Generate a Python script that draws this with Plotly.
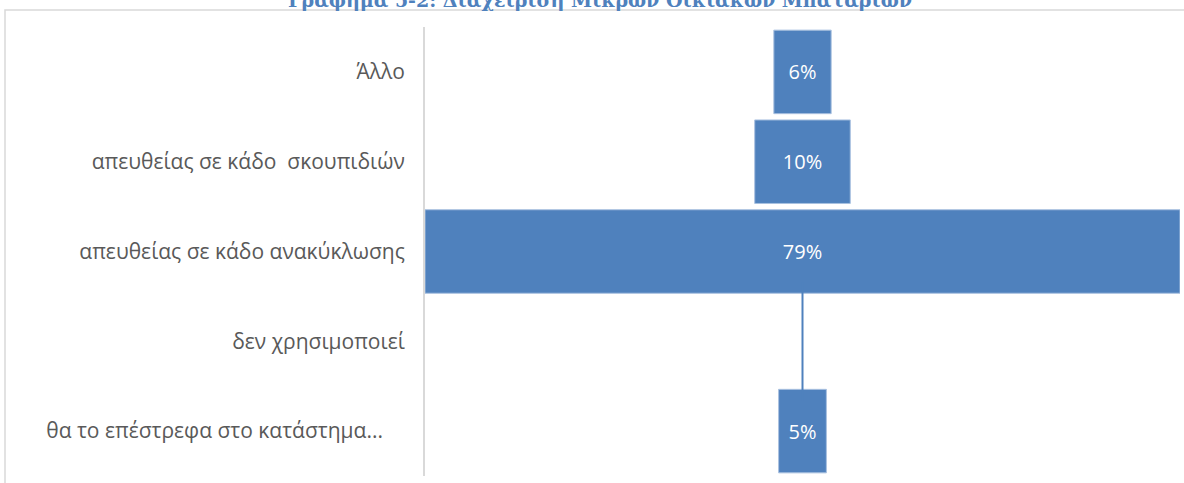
import plotly.graph_objects as go

categories = ["Άλλο", "απευθείας σε κάδο  σκουπιδιών", "απευθείας σε κάδο ανακύκλωσης",
              "δεν χρησιμοποιεί", "θα το επέστρεφα στο κατάστημα..."]
values = [6, 10, 79, 0, 5]
title_text = "Γράφημα 5-2: Διαχείριση Μικρών Οικιακών Μπαταριών"

BLUE = "#4F81BD"
labels = [f"{v}%" if v > 0 else "" for v in values]
# the last label sits a little left of the others in the reference (trailing blanks)
tick_text = [c + ("\u00a0" * 4 if c.endswith("...") else "") for c in categories]

fig = go.Figure()
fig.add_trace(go.Bar(
    y=categories, x=values, base=[-v / 2 for v in values], orientation="h",
    marker=dict(color=BLUE, line=dict(color="#A9C1E0", width=1)),
    text=labels, textposition="inside", insidetextanchor="middle",
    textfont=dict(family="Open Sans", size=20, color="white"),
    hoverinfo="skip", showlegend=False,
))
zero_cats = [c for c, v in zip(categories, values) if v == 0]
fig.add_trace(go.Scatter(
    y=zero_cats, x=[0] * len(zero_cats), mode="markers",
    marker=dict(symbol="line-ns", size=84, line=dict(color=BLUE, width=2)),
    hoverinfo="skip", showlegend=False,
))

half = max(values) / 2
fig.update_layout(
    width=1184, height=483,
    margin=dict(l=425, r=4, t=27, b=7),
    paper_bgcolor="white", plot_bgcolor="white",
    bargap=0.07,
    xaxis=dict(range=[-half, half], visible=False, fixedrange=True),
    yaxis=dict(categoryorder="array", categoryarray=categories[::-1],
               tickmode="array", tickvals=categories, ticktext=tick_text,
               showline=True, linecolor="#D9D9D9", linewidth=2, showgrid=False,
               ticks="", ticklabelstandoff=14, fixedrange=True,
               tickfont=dict(family="Open Sans", size=21, color="#595959")),
    shapes=[dict(type="rect", xref="paper", yref="paper",
                 x0=-0.5563, x1=1.2, y0=1.038, y1=-0.2,
                 line=dict(color="#D9D9D9", width=1.5), layer="below")],
    annotations=[dict(text=f"<b>{title_text}</b>", xref="paper", yref="paper",
                      x=0.2318, xanchor="center", y=1.0, yshift=14, yanchor="bottom",
                      showarrow=False,
                      font=dict(family="DejaVu Serif", size=19, color="#4F81BD"))],
)
fig.write_html("out.html", config={"displayModeBar": False},
               post_script="document.body.style.margin='0';")
